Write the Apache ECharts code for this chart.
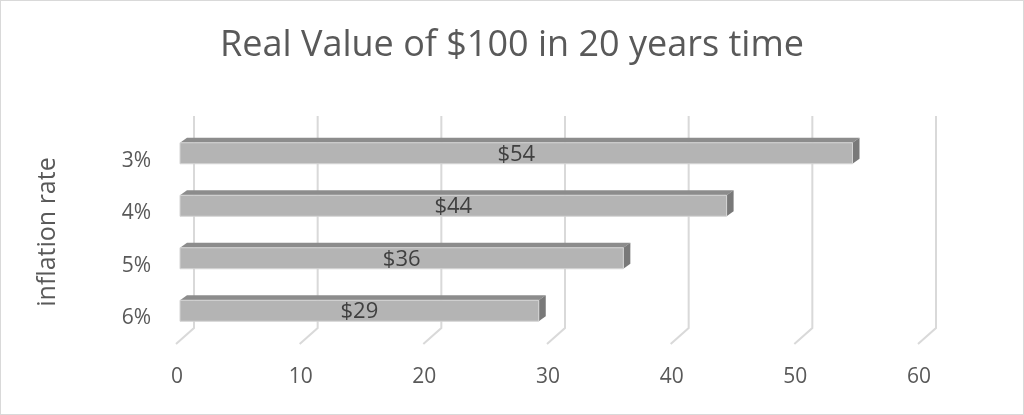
<!DOCTYPE html>
<html>
<head>
<meta charset="utf-8">
<script src="https://cdn.jsdelivr.net/npm/echarts@6/dist/echarts.min.js"></script>
<style>
html,body{margin:0;padding:0;background:#fff;}
#chart{width:1024px;height:415px;box-sizing:border-box;border:1px solid #d9d9d9;}
</style>
</head>
<body>
<div id="chart"></div>
<script>
var titleText = 'Real Value of $100 in 20 years time';
var categories = ['3%', '4%', '5%', '6%'];
var values = [54.38, 44.20, 35.85, 29.01];
var valueLabels = ['$54', '$44', '$36', '$29'];
var xTicks = [0, 10, 20, 30, 40, 50, 60];
var yAxisName = 'inflation rate';

var FONT = 'Open Sans';
var chart = echarts.init(document.getElementById('chart'), null, {renderer: 'canvas'});

var option = {
  animation: false,
  backgroundColor: '#ffffff',
  title: {
    text: titleText,
    left: 'center',
    top: 22,
    textStyle: {fontFamily: FONT, fontSize: 36, fontWeight: 'normal', color: '#595959'}
  },
  grid: {left: 179, right: 101, top: 126, bottom: 77, containLabel: false},
  xAxis: {
    type: 'value', min: 0, max: 60, interval: 10,
    axisLine: {show: false}, axisTick: {show: false}, splitLine: {show: false},
    axisLabel: {fontFamily: FONT, fontSize: 21, color: '#595959', margin: 30, padding: [0, 6, 0, 0]}
  },
  yAxis: {
    type: 'category', data: categories, inverse: true,
    axisLine: {show: false}, axisTick: {show: false},
    name: yAxisName, nameLocation: 'middle', nameGap: 120, nameRotate: 90,
    nameTextStyle: {fontFamily: FONT, fontSize: 25, color: '#595959'},
    axisLabel: {fontFamily: FONT, fontSize: 21, color: '#595959', margin: 29,
                verticalAlign: 'top', lineHeight: 15}
  },
  series: [
    {
      type: 'custom',
      name: 'grid',
      silent: true,
      z: 1,
      data: xTicks.map(function (t) { return [t]; }),
      renderItem: function (params, api) {
        var v = api.value(0);
        var p = api.coord([v, 0]);
        var x = p[0];
        var topY = 115, bendY = 327, botY = 343;
        return {
          type: 'polyline',
          shape: {points: [[x + 14, topY], [x + 14, bendY], [x - 4, botY]]},
          style: {stroke: '#d9d9d9', lineWidth: 2, fill: null}
        };
      }
    },
    {
      type: 'custom',
      name: 'bars',
      z: 2,
      data: values.map(function (v, i) { return [v, i]; }),
      renderItem: function (params, api) {
        var v = api.value(0), c = api.value(1);
        var s = api.coord([0, c]);
        var e = api.coord([v, c]);
        var h = 21, dx = 7, dy = 5;
        var x0 = s[0], x1 = e[0];
        var y0 = s[1] - h / 2, y1 = s[1] + h / 2;
        return {
          type: 'group',
          children: [
            {type: 'polygon', shape: {points: [[x0, y0], [x0 + dx, y0 - dy], [x1 + dx, y0 - dy], [x1, y0]]},
             style: {fill: '#8c8c8c', stroke: null}},
            {type: 'polygon', shape: {points: [[x1, y0], [x1 + dx, y0 - dy], [x1 + dx, y1 - dy], [x1, y1]]},
             style: {fill: '#797979', stroke: null}},
            {type: 'rect', shape: {x: x0, y: y0, width: x1 - x0, height: h},
             style: {fill: '#b4b4b4', stroke: '#d4d4d4', lineWidth: 1}},
            {type: 'text', x: (x0 + x1) / 2, y: s[1] + 1,
             style: {text: valueLabels[params.dataIndex], fontFamily: FONT, fontSize: 22, fill: '#404040',
                     align: 'center', verticalAlign: 'middle'}}
          ]
        };
      }
    }
  ]
};
chart.setOption(option);
</script>
</body>
</html>
